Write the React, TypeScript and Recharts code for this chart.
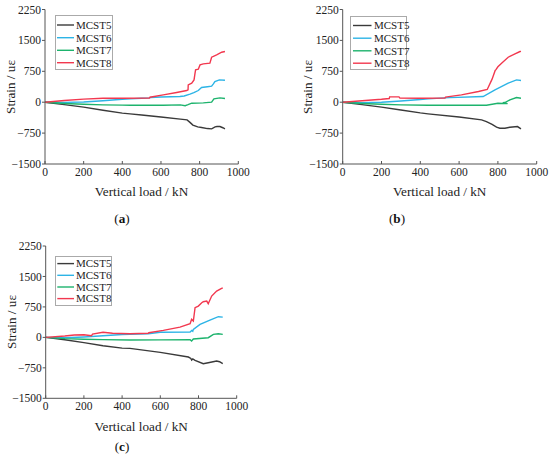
import React from 'react';
import { LineChart, Line, XAxis, YAxis } from 'recharts';

type P = [number, number];

const seriesNames = ['MCST5', 'MCST6', 'MCST7', 'MCST8'];
const seriesColors = ['#3a3a3a', '#2db4e6', '#1db36d', '#f2384f'];
const xTicks = [0, 200, 400, 600, 800, 1000];
const yTicks = [-1500, -750, 0, 750, 1500, 2250];
const panelLabels = ['a', 'b', 'c'];
const xTitle = 'Vertical load / kN';
const yTitle = 'Strain / uε';

// Panel (a): [load kN, strain]
const a5: P[] = [[0, 0], [100, -60], [200, -120], [300, -195], [400, -265], [440, -283], [500, -310], [600, -360], [700, -410], [735, -430], [750, -490], [765, -555], [790, -600], [810, -615], [840, -640], [862, -647], [880, -600], [890, -590], [905, -590], [920, -620], [931, -647]];
const a6: P[] = [[0, 0], [100, -5], [200, 5], [300, 35], [400, 70], [440, 81], [500, 95], [543, 105], [545, 113], [600, 125], [698, 137], [720, 150], [750, 194], [770, 230], [793, 283], [810, 356], [840, 375], [862, 388], [871, 445], [879, 502], [902, 542], [931, 534]];
const a7: P[] = [[0, 0], [100, -30], [200, -50], [300, -65], [400, -72], [440, -73], [500, -75], [612, -73], [700, -65], [725, -85], [740, -60], [759, -24], [819, -16], [862, 0], [874, 81], [905, 105], [931, 89]];
const a8: P[] = [[0, 0], [100, 40], [200, 75], [300, 95], [400, 97], [540, 100], [543, 121], [612, 178], [681, 235], [733, 283], [740, 300], [741, 420], [759, 461], [771, 542], [776, 700], [779, 785], [793, 800], [802, 906], [819, 930], [853, 946], [862, 1092], [888, 1149], [914, 1213], [931, 1230]];

// Panel (b)
const b5: P[] = [[0, 0], [100, -60], [200, -120], [300, -190], [400, -260], [440, -283], [600, -360], [716, -429], [741, -469], [770, -540], [793, -607], [810, -631], [836, -631], [862, -607], [901, -591], [919, -647]];
const b6: P[] = [[0, 0], [100, -10], [200, 0], [300, 30], [400, 65], [440, 81], [550, 110], [724, 137], [785, 300], [853, 461], [896, 542], [919, 526]];
const b7: P[] = [[0, 0], [100, -30], [200, -50], [300, -65], [440, -73], [741, -73], [800, -25], [850, -35], [825, -12], [836, -8], [862, 57], [896, 113], [919, 97]];
const b8: P[] = [[0, 0], [100, 35], [200, 70], [240, 90], [242, 130], [290, 130], [295, 100], [400, 95], [527, 100], [530, 125], [612, 178], [700, 260], [745, 310], [770, 560], [786, 770], [790, 790], [800, 860], [819, 946], [853, 1092], [888, 1173], [914, 1230], [919, 1235]];

// Panel (c)
const c5: P[] = [[0, 0], [100, -60], [200, -130], [300, -205], [400, -265], [441, -271], [600, -370], [747, -484], [760, -520], [764, -560], [770, -530], [782, -566], [825, -648], [851, -624], [895, -583], [910, -600], [927, -648]];
const c6: P[] = [[0, 0], [100, -10], [200, 10], [300, 40], [400, 70], [441, 74], [537, 90], [600, 125], [756, 131], [765, 170], [770, 150], [773, 197], [808, 320], [860, 427], [904, 509], [927, 500]];
const c7: P[] = [[0, 0], [100, -30], [200, -45], [300, -55], [441, -66], [600, -62], [756, -57], [764, -90], [773, -41], [851, -8], [878, 74], [904, 90], [927, 74]];
const c8: P[] = [[0, 0], [100, 35], [150, 60], [200, 65], [240, 40], [245, 80], [300, 125], [350, 100], [441, 90], [537, 100], [540, 115], [616, 172], [703, 254], [756, 336], [764, 443], [773, 402], [782, 730], [799, 771], [817, 853], [825, 878], [843, 894], [851, 829], [869, 1017], [895, 1140], [921, 1206], [927, 1220]];

const panelSeries: P[][][] = [[a5, a6, a7, a8], [b5, b6, b7, b8], [c5, c6, c7, c8]];

const FONT = '"Liberation Serif", "Times New Roman", serif';

const toData = (pts: P[]) => pts.map(([x, y]) => ({ x, y }));
const fmtY = (v: number) => (v < 0 ? '\u2212' + Math.abs(v) : String(v));

type Layout = {
  left: number; top: number; W: number; H: number;
  margin: { top: number; right: number; left: number; bottom: number };
  xTitle: [number, number]; yTitle: [number, number]; label: [number, number];
  legend: { left: number; top: number; w: number; h: number; rows: number[]; lineX: [number, number]; textX: number };
};

const layouts: Layout[] = [
  {
    left: 0, top: 0, W: 275, H: 200,
    margin: { top: 9.5, right: 36.7, left: 10, bottom: 6 },
    xTitle: [141.5, 192], yTitle: [11, 87], label: [122, 219],
    legend: { left: 55, top: 15, w: 58, h: 55, rows: [25, 37.7, 50.3, 62.7], lineX: [57, 74], textX: 76 },
  },
  {
    left: 298, top: 0, W: 252, H: 200,
    margin: { top: 9.5, right: 13.3, left: 9.7, bottom: 6 },
    xTitle: [439.7, 192], yTitle: [308, 87], label: [397, 219],
    legend: { left: 350, top: 15.5, w: 57, h: 54, rows: [25, 37.7, 50.3, 62.7], lineX: [353, 371.5], textX: 374 },
  },
  {
    left: 0, top: 237, W: 275, H: 200,
    margin: { top: 9, right: 38.3, left: 10.7, bottom: 8.7 },
    xTitle: [141.2, 427.3], yTitle: [12.3, 322], label: [122, 446.7],
    legend: { left: 55, top: 255.7, w: 57, h: 50, rows: [263.3, 275, 286.7, 298.3], lineX: [57.3, 74], textX: 76 },
  },
];

const axisStroke = '#555';
const tickStyle = { fontSize: 11.5, fontFamily: FONT, fill: '#222' };

function LegendBox({ L }: { L: Layout['legend'] }) {
  return (
    <svg
      width={L.w + 2}
      height={L.h + 2}
      style={{ position: 'absolute', left: L.left - 1, top: L.top - 1, overflow: 'visible' }}
    >
      <rect x={1.5} y={1.5} width={L.w - 1} height={L.h - 1} fill="#fff" stroke="#aaa" strokeWidth={1} />
      {seriesNames.map((n, i) => {
        const y = L.rows[i] - L.top + 1;
        return (
          <g key={n}>
            <line
              x1={L.lineX[0] - L.left + 1}
              x2={L.lineX[1] - L.left + 1}
              y1={y}
              y2={y}
              stroke={seriesColors[i]}
              strokeWidth={1.4}
            />
            <text
              x={L.textX - L.left + 1}
              y={y}
              dy="0.35em"
              fontFamily={FONT}
              fontSize={11}
              fill="#222"
            >
              {n}
            </text>
          </g>
        );
      })}
    </svg>
  );
}

function Panel({ idx }: { idx: number }) {
  const L = layouts[idx];
  const series = panelSeries[idx];
  return (
    <>
      <div style={{ position: 'absolute', left: L.left, top: L.top }}>
        <LineChart width={L.W} height={L.H} margin={L.margin}>
          <XAxis
            xAxisId={0}
            type="number"
            dataKey="x"
            domain={[0, 1000]}
            ticks={xTicks}
            allowDataOverflow
            height={30}
            tickSize={-3}
            tickMargin={7}
            stroke={axisStroke}
            tick={tickStyle}
            interval={0}
          />
          <XAxis
            xAxisId="top"
            orientation="top"
            type="number"
            dataKey="x"
            domain={[0, 1000]}
            ticks={xTicks}
            allowDataOverflow
            height={0}
            tickSize={-3}
            tick={false}
            stroke={axisStroke}
            interval={0}
          />
          <YAxis
            yAxisId={0}
            type="number"
            domain={[-1500, 2250]}
            ticks={yTicks}
            allowDataOverflow
            width={35}
            tickSize={3}
            tickMargin={1}
            stroke={axisStroke}
            tick={tickStyle}
            tickFormatter={fmtY}
            interval={0}
          />
          <YAxis
            yAxisId="right"
            orientation="right"
            type="number"
            domain={[-1500, 2250]}
            ticks={yTicks}
            allowDataOverflow
            width={0}
            tickSize={-3}
            tick={false}
            stroke={axisStroke}
            interval={0}
          />
          {series.map((pts, i) => (
            <Line
              key={seriesNames[i]}
              xAxisId={0}
              yAxisId={0}
              data={toData(pts)}
              dataKey="y"
              name={seriesNames[i]}
              type="linear"
              stroke={seriesColors[i]}
              strokeWidth={1.4}
              dot={false}
              activeDot={false}
              isAnimationActive={false}
            />
          ))}
        </LineChart>
      </div>
      <div
        style={{
          position: 'absolute', left: L.xTitle[0], top: L.xTitle[1],
          transform: 'translate(-50%, -50%)', fontFamily: FONT, fontSize: 13.2,
          whiteSpace: 'nowrap', color: '#222', lineHeight: 1,
        }}
      >
        {xTitle}
      </div>
      <div
        style={{
          position: 'absolute', left: L.yTitle[0], top: L.yTitle[1],
          transform: 'translate(-50%, -50%) rotate(-90deg)', fontFamily: FONT, fontSize: 13.2,
          whiteSpace: 'nowrap', color: '#222', lineHeight: 1,
        }}
      >
        {yTitle}
      </div>
      <div
        style={{
          position: 'absolute', left: L.label[0], top: L.label[1],
          transform: 'translate(-50%, -50%)', fontFamily: FONT, fontSize: 13.2,
          whiteSpace: 'nowrap', color: '#111', lineHeight: 1,
        }}
      >
        (<b>{panelLabels[idx]}</b>)
      </div>
      <LegendBox L={L.legend} />
    </>
  );
}

export default function App() {
  return (
    <div style={{ position: 'absolute', left: 0, top: 0, width: 550, height: 467, background: '#fff', overflow: 'hidden' }}>
      {[0, 1, 2].map((i) => (
        <Panel key={i} idx={i} />
      ))}
    </div>
  );
}
